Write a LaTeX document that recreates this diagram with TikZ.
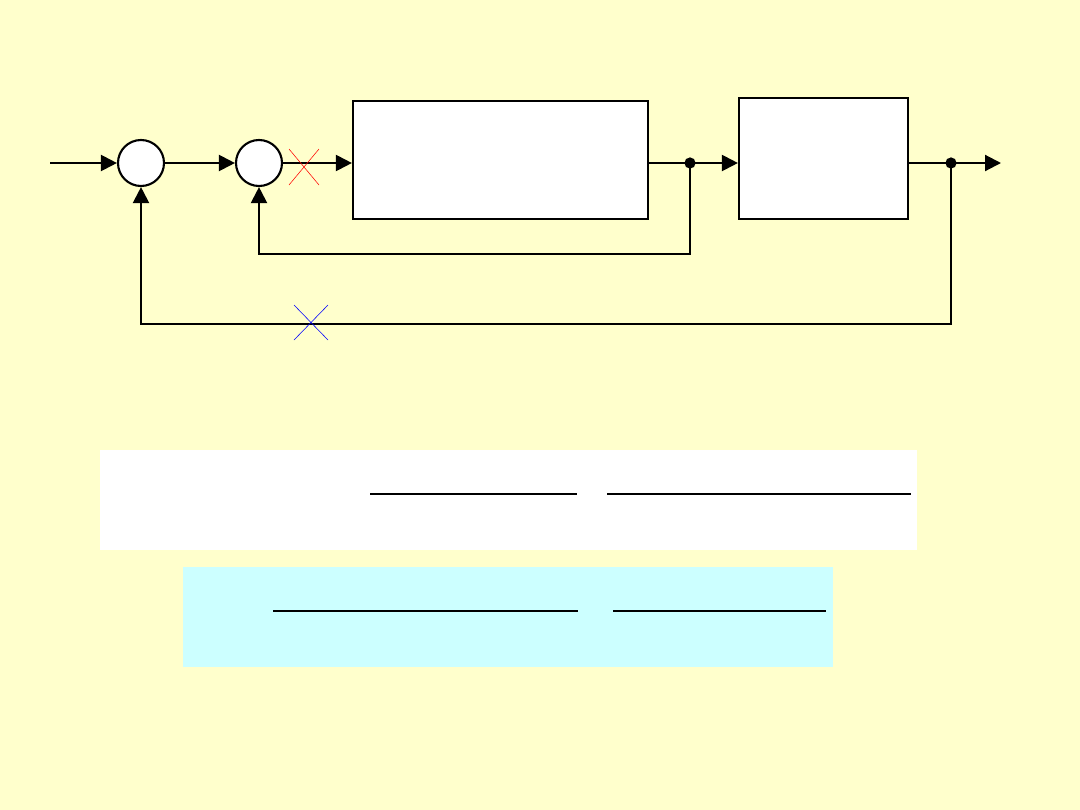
\documentclass[tikz,border=0pt]{standalone}
\usepackage{tikz}
\usetikzlibrary{arrows.meta, positioning, calc}
\usepackage{xcolor}
\definecolor{slideyellow}{RGB}{255, 255, 204}
\definecolor{boxcyan}{RGB}{204, 255, 255}

\begin{document}
\begin{tikzpicture}[x=0.025cm, y=-0.025cm,
    sig/.style={line width=1.5pt, -{Triangle[length=0.4cm, width=0.4cm]}},
    wire/.style={line width=1.5pt},
    sumnode/.style={circle, draw, line width=1.5pt, fill=white, minimum size=1.15cm, inner sep=0pt},
    blocknode/.style={rectangle, draw, line width=1.5pt, fill=white, inner sep=0pt},
    fracline/.style={line width=0.8pt}]
  \fill[slideyellow] (0,0) rectangle (1080,810);
  \useasboundingbox (0,0) rectangle (1080,810);

  \node[sumnode] (sum1) at (141,163) {};
  \node[sumnode] (sum2) at (259,163) {};
  \node[blocknode, minimum width=7.375cm, minimum height=2.95cm] (blk1) at (500.5,160) {};
  \node[blocknode, minimum width=4.225cm, minimum height=3.025cm] (blk2) at (823.5,158.5) {};

  \coordinate (in) at (50,163);
  \coordinate (br1) at (690,163);
  \coordinate (br2) at (951,163);
  \coordinate (out) at (1001,163);
  \coordinate (fb1) at (690,254);
  \coordinate (fb2) at (951,324);

  \draw[sig] (in) -- (sum1.west);
  \draw[sig] (sum1.east) -- (sum2.west);
  \draw[sig] (sum2.east) -- (blk1.west |- sum2.east);
  \draw[wire] (blk1.east |- br1) -- (br1);
  \draw[sig] (br1) -- (blk2.west |- br1);
  \draw[wire] (blk2.east |- br2) -- (br2);
  \draw[sig] (br2) -- (out);
  \fill (br1) circle (4pt);
  \fill (br2) circle (4pt);

  \draw[sig] (br1) -- (fb1) -| (sum2.south);
  \draw[sig] (br2) -- (fb2) -| (sum1.south);

  \draw[red, thin] (289,149) -- (319,185) (319,149) -- (289,185);
  \draw[blue, thin] (294,305) -- (328,340) (328,305) -- (294,340);

  \fill[white] (100,450) rectangle (917,550);
  \draw[fracline] (370,494) -- (577,494);
  \draw[fracline] (607,494) -- (911,494);

  \fill[boxcyan] (183,567) rectangle (833,667);
  \draw[fracline] (273,611) -- (578,611);
  \draw[fracline] (613,611) -- (826,611);
\end{tikzpicture}
\end{document}
